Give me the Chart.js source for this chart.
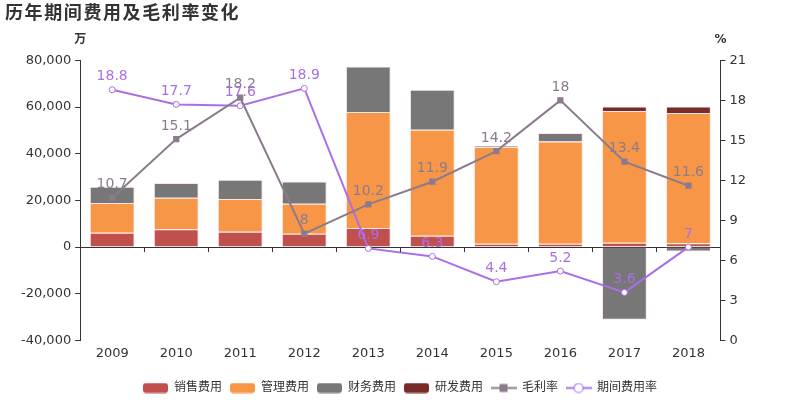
<!DOCTYPE html>
<html>
<head>
<meta charset="utf-8">
<script src="https://cdn.jsdelivr.net/npm/chart.js@4.4.0/dist/chart.umd.min.js"></script>
<style>
  html,body{margin:0;padding:0;background:#fff;}
  #wrap{width:800px;height:400px;position:relative;}
</style>
</head>
<body>
<div id="wrap"><canvas id="myChart" width="800" height="400"></canvas></div>
<script>
const years = ['2009','2010','2011','2012','2013','2014','2015','2016','2017','2018'];
// 万元
const sales   = [6150, 7600, 6600, 5700, 8200, 4900, 1400, 1400, 1850, 1600];
const manage  = [12750, 13500, 14000, 12900, 49700, 45400, 41500, 43800, 56450, 55900];
const finance = [7000, 6400, 8300, 9500, 19500, 17100, 400, 3700, -31100, -1850];
const rnd     = [0, 0, 0, 0, 0, 0, 0, 0, 1900, 2700];
const grossRate  = [10.7, 15.1, 18.2, 8, 10.2, 11.9, 14.2, 18, 13.4, 11.6];
const periodRate = [18.8, 17.7, 17.6, 18.9, 6.9, 6.3, 4.4, 5.2, 3.6, 7];
const TITLE = '历年期间费用及毛利率变化';

const FONT = "'DejaVu Sans','Noto Sans CJK SC',sans-serif";
const C_SALES = '#C0504D', C_MANAGE = '#F79646', C_FIN = '#777777', C_RND = '#772C2A';
const C_GROSS = '#8C7B8D', C_PERIOD = '#A96FE6';

function boxIcon(color){
  const c = document.createElement('canvas');
  c.width = 25; c.height = 11;
  const g = c.getContext('2d');
  g.fillStyle = color;
  g.beginPath();
  g.roundRect(0, 0.5, 25, 10, 3);
  g.fill();
  return c;
}
function lineIcon(color, square){
  const c = document.createElement('canvas');
  c.width = 26; c.height = 11;
  const g = c.getContext('2d');
  g.strokeStyle = color; g.lineWidth = 2;
  g.beginPath(); g.moveTo(0, 5.5); g.lineTo(26, 5.5); g.stroke();
  if(square){
    g.fillStyle = color;
    g.fillRect(9, 1.5, 8, 8);
  } else {
    g.lineWidth = 1.2;
    g.fillStyle = '#fff';
    g.beginPath(); g.arc(13, 5.5, 4.5, 0, Math.PI*2); g.fill(); g.stroke();
  }
  return c;
}

const labelPlugin = {
  id: 'pointLabels',
  afterDatasetsDraw(chart){
    const ctx = chart.ctx;
    ctx.save();
    ctx.font = '14px ' + FONT;
    ctx.textAlign = 'center';
    ctx.textBaseline = 'bottom';
    chart.data.datasets.forEach((ds, i) => {
      if(ds.type !== 'line') return;
      const meta = chart.getDatasetMeta(i);
      ctx.fillStyle = ds.borderColor;
      meta.data.forEach((pt, j) => {
        ctx.fillText(String(ds.data[j]), pt.x, pt.y - 6);
      });
    });
    ctx.restore();
  }
};

const axisExtras = {
  id: 'axisExtras',
  afterDraw(chart){
    const ctx = chart.ctx;
    const x = chart.scales.x, y = chart.scales.y, y1 = chart.scales.y1;
    const zero = y.getPixelForValue(0);
    ctx.save();
    ctx.strokeStyle = '#333'; ctx.lineWidth = 1;
    ctx.beginPath();
    for(let i = 0; i <= years.length; i++){
      const px = Math.round(x.left + (x.right - x.left) * i / years.length) + 0.5;
      ctx.moveTo(px, zero); ctx.lineTo(px, zero + 5);
    }
    ctx.stroke();
    ctx.fillStyle = '#333';
    ctx.font = 'bold 12px ' + FONT;
    ctx.textAlign = 'center';
    ctx.textBaseline = 'bottom';
    ctx.fillText('万', y.right, y.top - 15);
    ctx.fillText('%', y1.left, y1.top - 15);
    // title
    ctx.textAlign = 'left';
    ctx.textBaseline = 'middle';
    ctx.font = 'bold 18px ' + FONT;
    ctx.letterSpacing = '1.6px';
    ctx.fillText(TITLE, 5, 14);
    ctx.restore();
  }
};

const barDs = (label, data, color) => ({
  type: 'bar', label, data,
  backgroundColor: color,
  borderColor: 'rgba(255,225,225,0.85)',
  borderWidth: 1,
  stack: 's', yAxisID: 'y', order: 2,
  barPercentage: 0.7, categoryPercentage: 1.0
});

const ctx = document.getElementById('myChart').getContext('2d');
const myChart = new Chart(ctx, {
  data: {
    labels: years,
    datasets: [
      barDs('销售费用', sales, C_SALES),
      barDs('管理费用', manage, C_MANAGE),
      barDs('财务费用', finance, C_FIN),
      barDs('研发费用', rnd, C_RND),
      {
        type: 'line', label: '毛利率', data: grossRate, yAxisID: 'y1', order: 0,
        borderColor: C_GROSS, backgroundColor: C_GROSS, borderWidth: 2,
        pointStyle: 'rect', pointRadius: 3, pointBackgroundColor: C_GROSS,
        tension: 0
      },
      {
        type: 'line', label: '期间费用率', data: periodRate, yAxisID: 'y1', order: 1,
        borderColor: C_PERIOD, backgroundColor: '#fff', borderWidth: 2,
        pointStyle: 'circle', pointRadius: 3, pointBackgroundColor: '#fff', pointBorderWidth: 1,
        tension: 0
      }
    ]
  },
  options: {
    responsive: false,
    animation: false,
    layout: { padding: { left: 17, right: 17, top: 0, bottom: -4 } },
    plugins: {
      title: {
        // space holder, the title text is drawn by axisExtras
        display: true, text: TITLE, align: 'start',
        color: 'rgba(0,0,0,0)', font: { size: 17, weight: 'bold', family: FONT },
        padding: { top: 2, bottom: 38 }
      },
      legend: {
        position: 'bottom',
        labels: {
          usePointStyle: true,
          pointStyleWidth: 25,
          boxHeight: 11,
          color: '#333', font: { size: 12, family: FONT },
          padding: 8,
          generateLabels(chart){
            const icons = [boxIcon(C_SALES), boxIcon(C_MANAGE), boxIcon(C_FIN), boxIcon(C_RND), lineIcon(C_GROSS, true), lineIcon(C_PERIOD, false)];
            return chart.data.datasets.map((ds, i) => ({
              text: ds.label, datasetIndex: i, pointStyle: icons[i],
              fillStyle: ds.backgroundColor, strokeStyle: ds.borderColor, lineWidth: 0, hidden: false,
              fontColor: '#333'
            }));
          }
        }
      },
      tooltip: { enabled: false }
    },
    scales: {
      x: {
        offset: true,
        grid: { display: false },
        border: { display: false },
        ticks: { color: '#333', font: { size: 13, family: FONT }, padding: -3 },
        stacked: true,
        afterFit(s){ s.height += 16; }
      },
      y: {
        position: 'left', stacked: true,
        min: -40000, max: 80000,
        ticks: { stepSize: 20000, color: '#333', font: { size: 13, family: FONT }, padding: 4 },
        grid: {
          drawOnChartArea: true, tickLength: 5, tickColor: '#333',
          color: c => c.tick && c.tick.value === 0 ? '#333' : 'rgba(0,0,0,0)'
        },
        border: { display: true, color: '#333' }
      },
      y1: {
        position: 'right',
        min: 0, max: 21,
        ticks: { stepSize: 3, color: '#333', font: { size: 13, family: FONT }, padding: 4 },
        grid: { drawOnChartArea: false, tickLength: 5, tickColor: '#333' },
        border: { display: true, color: '#333' },
        afterFit(s){ s.width += 33; }
      }
    }
  },
  plugins: [labelPlugin, axisExtras]
});
</script>
</body>
</html>
